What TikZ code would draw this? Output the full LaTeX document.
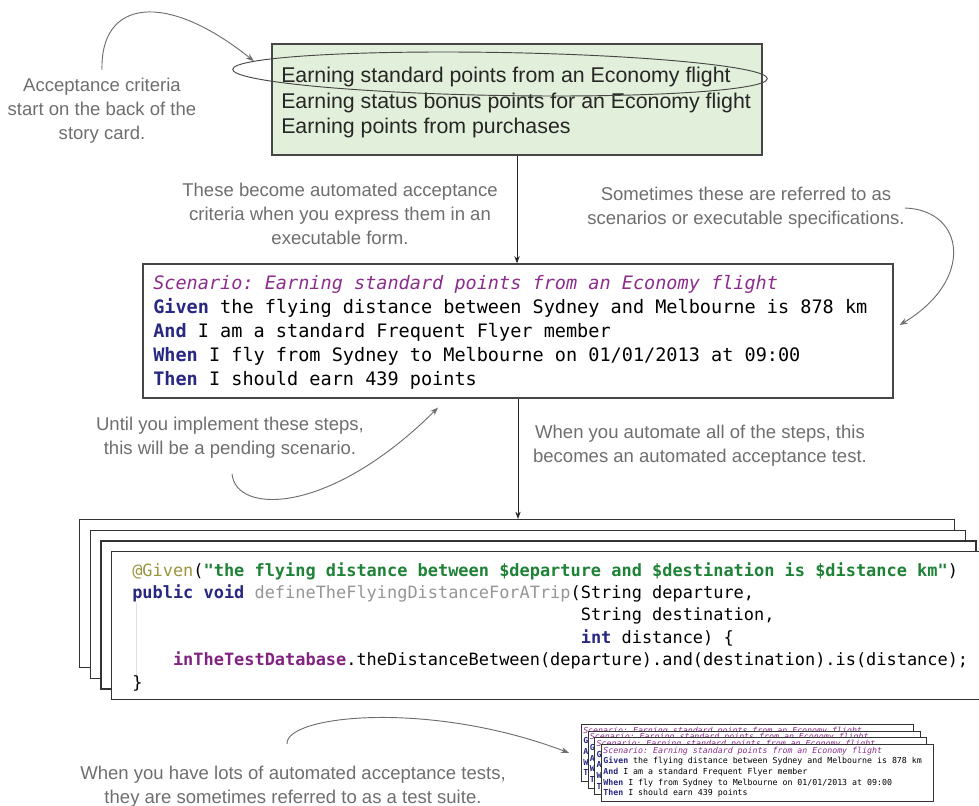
\documentclass[tikz,border=0pt]{standalone}
\usepackage{fontspec}
\setmainfont{Liberation Sans}
\setmonofont{DejaVu Sans Mono}
\usepackage{xcolor}
\usetikzlibrary{positioning,arrows.meta,calc,shapes.geometric}
\definecolor{cnote}{RGB}{110,110,110}
\definecolor{cline}{RGB}{70,70,70}
\definecolor{ccard}{RGB}{226,239,218}
\definecolor{cscen}{RGB}{140,45,140}
\definecolor{ckey}{RGB}{40,40,130}
\definecolor{cannot}{RGB}{155,150,60}
\definecolor{cstr}{RGB}{30,130,55}
\definecolor{cmeth}{RGB}{150,150,150}
\definecolor{cfield}{RGB}{130,35,130}
\newcommand{\scentitle}{{\color{cscen}\itshape Scenario: Earning standard points from an Economy flight}}
\newcommand{\scentext}{%
  \scentitle\\
  {\color{ckey}\bfseries Given} the flying distance between Sydney and Melbourne is 878 km\\
  {\color{ckey}\bfseries And} I am a standard Frequent Flyer member\\
  {\color{ckey}\bfseries When} I fly from Sydney to Melbourne on 01/01/2013 at 09:00\\
  {\color{ckey}\bfseries Then} I should earn 439 points}
\newcommand{\scenstub}{%
  \scentitle\\
  {\color{ckey}\bfseries G}\\{\color{ckey}\bfseries A}\\{\color{ckey}\bfseries W}\\{\color{ckey}\bfseries T}}

\begin{document}
\begin{tikzpicture}[x=0.75pt, y=-0.75pt,
  note/.style={align=center, text=cnote, inner sep=0pt,
               font=\fontsize{13.9}{18}\selectfont},
  card/.style={draw=cline, fill=ccard, line width=0.9pt,
               minimum width=367.5pt, minimum height=83.25pt},
  scenbox/.style={draw=cline, fill=white, line width=0.9pt,
                  minimum width=562.5pt, minimum height=100.5pt},
  layer/.style={draw=black!80, fill=white, line width=0.9pt, anchor=north west,
                inner sep=0pt, minimum width=656.25pt, minimum height=111pt},
  mini/.style={draw=black!80, fill=white, line width=0.6pt, anchor=north west,
               inner sep=0pt, minimum width=249pt, minimum height=42.75pt},
  lines/.style={anchor=north west, align=left, inner sep=0pt},
  ar/.style={-{Stealth[length=5.5pt,width=4pt]}, draw=black!85, line width=0.7pt},
  curv/.style={-{Stealth[length=6pt,width=4.5pt]}, draw=cnote, line width=0.7pt}]
\useasboundingbox (0,0) rectangle (979,806);

\node[card] (card) at (517,99.5) {};
\node[lines, text=black!85, font=\fontsize{16}{19.1}\selectfont] (critlist) at (281,67)
  {Earning standard points from an Economy flight\\
   Earning status bonus points for an Economy flight\\
   Earning points from purchases};
\node[draw=cline, ellipse, rotate=-1, line width=0.7pt,
      minimum width=401pt, minimum height=32.25pt] (hl) at (500,74) {};

\node[note] (accnote) at (102,111) {Acceptance criteria\\start on the back of the\\story card.};
\node[note] (becomenote) at (340,214) {These become automated acceptance\\criteria when you express them in an\\executable form.};
\node[note] (specnote) at (746,208) {Sometimes these are referred to as\\scenarios or executable specifications.};

\node[scenbox] (scen) at (518,331) {};
\node[lines, font=\ttfamily\fontsize{13.9}{18}\selectfont] (scenlines) at (153,275) {\scentext};

\node[note] (pendnote) at (230,438) {Until you implement these steps,\\this will be a pending scenario.};
\node[note] (autonote) at (700,446) {When you automate all of the steps, this\\becomes an automated acceptance test.};

\foreach \k in {0,...,3}
  \node[layer] (code\k) at (79+10.7*\k,519+10.7*\k) {};
\draw[black!12] (136,603) -- (136,680);
\node[lines, font=\ttfamily\fontsize{12.7}{16.8}\selectfont] (codelines) at (132,562)
  {{\color{cannot}@Given}({\color{cstr}\bfseries"the flying distance between \$departure and \$destination is \$distance km"})\\
   {\color{ckey}\bfseries public void} {\color{cmeth}defineTheFlyingDistanceForATrip}(String departure,\\
   \phantom{public void defineTheFlyingDistanceForATrip(}String destination,\\
   \phantom{public void defineTheFlyingDistanceForATrip(}{\color{ckey}\bfseries int} distance) \{\\
   \phantom{xxxx}{\color{cfield}\bfseries inTheTestDatabase}.theDistanceBetween(departure).and(destination).is(distance);\\
   \}};

\node[note] (suitenote) at (293,787) {When you have lots of automated acceptance tests,\\they are sometimes referred to as a test suite.};
\foreach \k in {0,...,2} {
  \node[mini] (mini\k) at (581+6.7*\k,724+6.7*\k) {};
  \node[lines, font=\ttfamily\fontsize{6.2}{8}\selectfont] (minitext\k) at (583+6.7*\k,726.5+6.7*\k) {\scenstub};
}
\node[mini] (mini3) at (601.1,744.1) {};
\node[lines, font=\ttfamily\fontsize{6.2}{8}\selectfont] (minitext3) at (603.1,746.6) {\scentext};

\draw[ar] (card.south) -- (card.south |- scen.north);
\draw[ar] (scen.south) -- (scen.south |- code0.north);
\draw[curv] ($(accnote.north)+(0,-8)$) .. controls (100,0) and (165,-10) .. (hl.178);
\draw[curv] (specnote.east) .. controls (965,210) and (975,280) .. ($(scen.east)+(6,-6)$);
\draw[curv] ($(pendnote.south)+(2,15)$) .. controls (236,515) and (330,515) .. ($(scen.south)+(-80,9)$);
\draw[curv] ($(suitenote.north)+(-6,-22)$) .. controls (285,715) and (430,700) .. ($(mini0.west)+(-12,0)$);
\end{tikzpicture}
\end{document}
